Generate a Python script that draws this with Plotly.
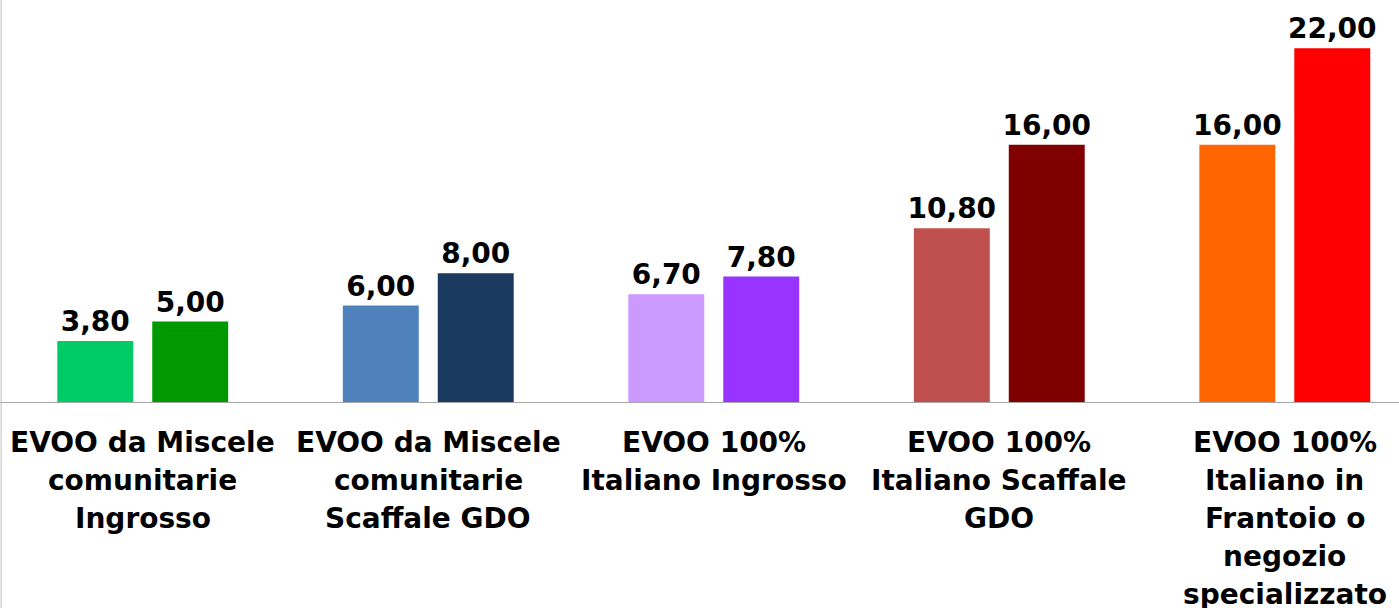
import plotly.graph_objects as go

categories = ["cat1", "cat2", "cat3", "cat4", "cat5"]
category_labels = [
    ["EVOO da Miscele", "comunitarie", "Ingrosso"],
    ["EVOO da Miscele", "comunitarie", "Scaffale GDO"],
    ["EVOO 100%", "Italiano Ingrosso"],
    ["EVOO 100%", "Italiano Scaffale", "GDO"],
    ["EVOO 100%", "Italiano in", "Frantoio o", "negozio", "specializzato"],
]
values_first = [3.80, 6.00, 6.70, 10.80, 16.00]
values_second = [5.00, 8.00, 7.80, 16.00, 22.00]
colors_first = ["#00CC66", "#4F81BD", "#CC99FF", "#C0504D", "#FF6600"]
colors_second = ["#009900", "#1B3A5F", "#9933FF", "#800000", "#FF0000"]

FONT = "DejaVu Sans"

fig = go.Figure()
for vals, cols in [(values_first, colors_first), (values_second, colors_second)]:
    fig.add_trace(go.Bar(
        x=categories, y=vals,
        marker=dict(color=cols, line=dict(width=0)),
        texttemplate="%{y:.2f}", textposition="outside", constraintext="none",
        textfont=dict(family=FONT, size=28, color="black", weight="bold"),
        cliponaxis=False, showlegend=False,
    ))

annotations = []
for cat, lines in zip(categories, category_labels):
    for j, line in enumerate(lines):
        annotations.append(dict(
            x=cat, y=0, xref="x", yref="y", text=line, showarrow=False,
            xanchor="center", yanchor="middle", yshift=-(40 + 38 * j),
            font=dict(family=FONT, size=28, color="black", weight="bold"),
        ))

fig.update_layout(
    width=1399, height=608,
    margin=dict(l=0, r=0, t=0, b=206),
    paper_bgcolor="white", plot_bgcolor="white",
    barmode="group", bargap=0.335, bargroupgap=0.2,
    separators=",.",
    xaxis=dict(range=[-0.5, 4.4], showticklabels=False, ticks="",
               showline=True, linecolor="#a6a6a6", linewidth=1, showgrid=False,
               zeroline=False, fixedrange=True),
    yaxis=dict(range=[0, 25], visible=False, showgrid=False, zeroline=False,
               fixedrange=True),
    annotations=annotations,
    shapes=[dict(type="line", xref="paper", yref="paper", x0=0.0008, x1=0.0008,
                 y0=-0.6, y1=1, line=dict(color="#bfbfbf", width=1))],
)

fig.write_html("out.html", config={"displayModeBar": False},
               post_script="document.body.style.margin='0px';")
